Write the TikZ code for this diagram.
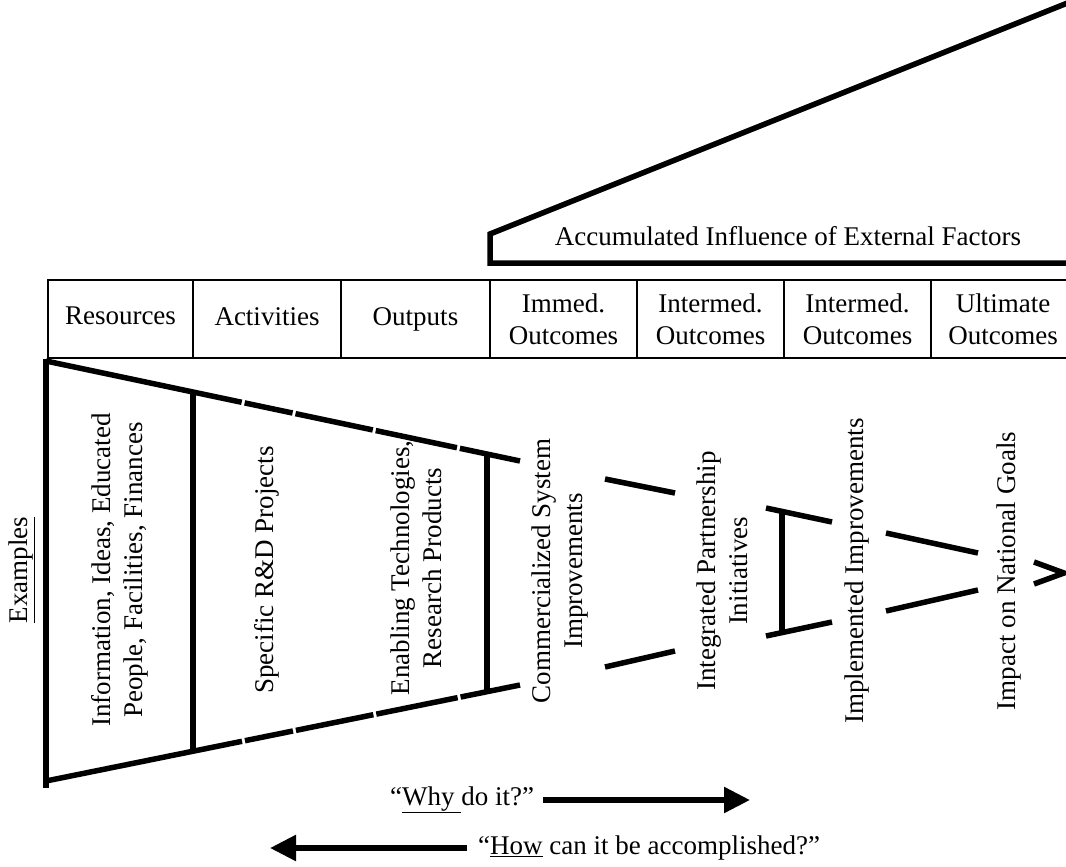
\documentclass[tikz,border=0pt]{standalone}
\usepackage{fontspec}
\setmainfont{Liberation Serif}
\usetikzlibrary{arrows.meta}
\begin{document}
\begin{tikzpicture}[
    x=1pt, y=-1pt,
    every node/.style={font=\fontsize{27}{32}\selectfont, align=center, inner sep=0pt},
    hdr/.style={draw, line width=2.5pt, minimum height=78pt},
    wall/.style={line width=5.5pt},
    gaps/.style={dash pattern=on 200pt off 3pt on 49pt off 3pt on 79pt off 3pt on 83pt off 3pt on 120pt},
    vtext/.style={rotate=90},
    bigarrow/.style={line width=5.5pt, -{Triangle[length=26pt, width=25pt]}}
    ]
\useasboundingbox (0,0) rectangle (1066,867);
\clip (0,0) rectangle (1066,867);
% wedge of external factors
\draw[wall, line join=miter] (1075,263) -- (490,263) -- (490,234) -- (1075,0);
\node (infl) at (788,236) {Accumulated Influence of External Factors};
% header row
\node[hdr, minimum width=145pt] (res) at (120.5,319) {Resources\vphantom{p}};
\node[hdr, minimum width=148pt] (act) at (267,319) {Activities\vphantom{p}};
\node[hdr, minimum width=149pt] (out) at (415.5,319) {Outputs};
\node[hdr, minimum width=147pt] (imm) at (563.5,319) {Immed.\\Outcomes};
\node[hdr, minimum width=147pt] (int1) at (710.5,319) {Intermed.\\Outcomes};
\node[hdr, minimum width=147pt] (int2) at (857.5,319) {Intermed.\\Outcomes};
\node[hdr, minimum width=144pt] (ult) at (1003,319) {Ultimate\\Outcomes};
% funnel
\draw[wall] (46,359) -- (46,788);
\draw[wall, gaps] (46,361) -- (520,461);
\draw[wall, gaps] (46,781) -- (520,685);
\draw[wall] (193,392) -- (193,751);
\draw[wall] (487,455) -- (487,692);
\draw[wall] (605,479) -- (675,493);
\draw[wall] (605,667) -- (675,651);
\draw[wall] (766,508) -- (832,522);
\draw[wall] (766,636) -- (832,622);
\draw[wall] (782,512) -- (782,632);
\draw[wall] (886,533) -- (978,553);
\draw[wall] (886,611) -- (978,590);
\draw[wall] (1034,562) -- (1064,573) -- (1034,584);
% examples
\node[vtext] (exm) at (22,570) {\underline{Examples}};
\node[vtext] (info) at (120,570) {Information, Ideas, Educated\\People, Facilities, Finances};
\node[vtext] (rnd) at (267,570) {Specific R\&D Projects};
\node[vtext] (tech) at (416,568) {Enabling Technologies,\\Research Products};
\node[vtext] (comm) at (560,571) {Commercialized System\\Improvements};
\node[vtext] (part) at (722,571) {Integrated Partnership\\Initiatives};
\node[vtext] (impl) at (857,571) {Implemented Improvements};
\node[vtext] (goal) at (1009,571) {Impact on National Goals};
% direction arrows
\node[anchor=west] (why) at (390,800) {``\underline{Why\ }do it?''};
\coordinate (whyend) at (750,800);
\draw[bigarrow] ([xshift=9pt]why.east) -- (whyend);
\node[anchor=west] (how) at (478,848) {``\underline{How} can it be accomplished?''};
\coordinate (howend) at (270,848);
\draw[bigarrow] ([xshift=-11pt]how.west) -- (howend);
\end{tikzpicture}
\end{document}
